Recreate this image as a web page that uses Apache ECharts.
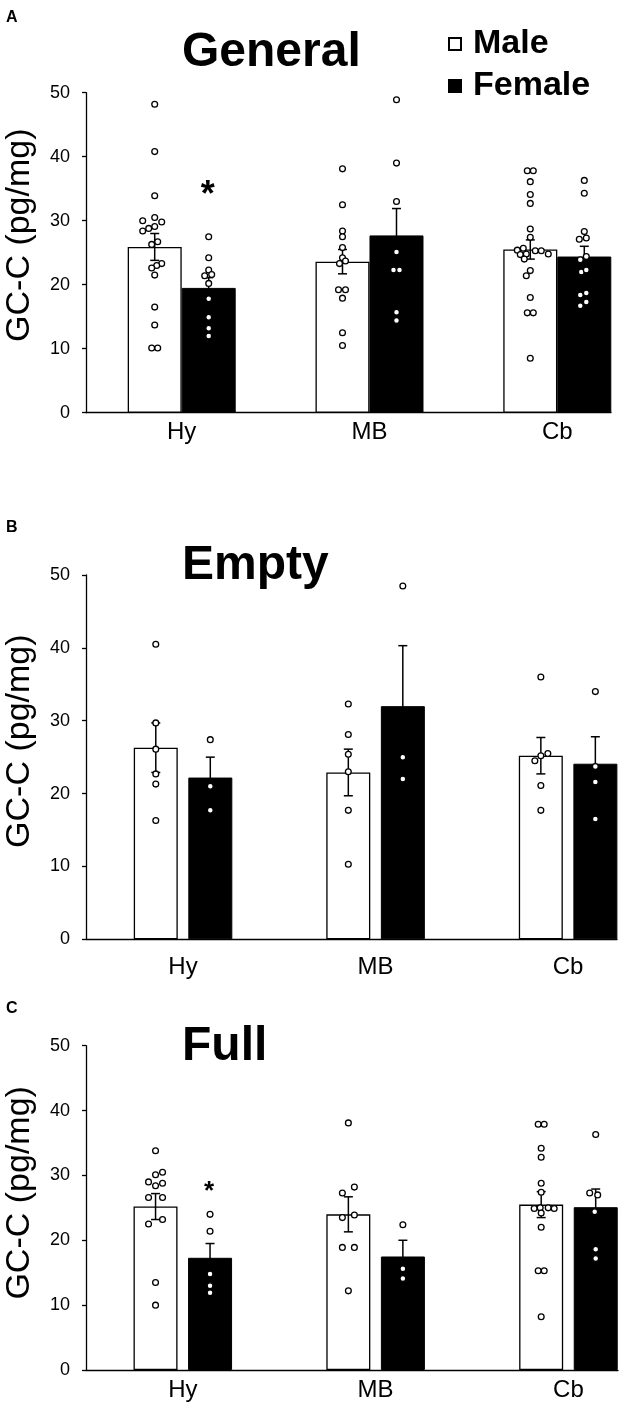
<!DOCTYPE html>
<html>
<head>
<meta charset="utf-8">
<script src="https://cdn.jsdelivr.net/npm/echarts/dist/echarts.min.js"></script>
<style>html,body{margin:0;padding:0;background:#fff;}#chart{width:624px;height:1410px;}</style>
</head>
<body>
<div id="chart"></div>
<script>
// ---------- data ----------
const categories = ['Hy', 'MB', 'Cb'];
const yTickValues = [0, 10, 20, 30, 40, 50];
const seriesNames = ['Male', 'Female'];
const panelTitles = ['General', 'Empty', 'Full'];
const panelLetters = ['A', 'B', 'C'];
const yAxisTitle = 'GC-C (pg/mg)';

// General (A)
const generalMaleMean = [25.9, 23.6, 25.5];
const generalMaleSem = [2.1, 1.9, 1.5];
const generalFemaleMean = [19.5, 27.7, 24.4];
const generalFemaleSem = [1.6, 4.2, 1.6];
const generalMalePoints = [
  [48.2, 40.8, 33.9, 30.0, 30.5, 29.8, 28.4, 28.8, 29.1, 26.3, 26.7, 23.3, 23.0, 22.6, 21.5, 16.5, 13.7, 10.1, 10.1],
  [38.1, 32.5, 28.4, 27.5, 25.8, 24.2, 23.3, 23.7, 19.2, 19.2, 17.9, 12.5, 10.5],
  [37.8, 37.8, 36.1, 34.1, 32.7, 28.7, 27.4, 25.4, 25.7, 24.7, 24.8, 24.0, 25.3, 25.3, 24.8, 22.2, 21.4, 18.0, 15.6, 15.6, 8.5]
];
const generalFemalePoints = [
  [27.5, 24.2, 22.3, 21.4, 21.6, 20.2, 17.8, 14.9, 13.2, 12.0],
  [48.9, 39.0, 33.0, 25.1, 22.3, 22.3, 15.7, 14.4],
  [36.3, 34.3, 28.3, 27.1, 27.3, 24.4, 23.9, 22.0, 22.3, 18.4, 18.7, 16.7, 17.3]
];
const generalSignificance = [35.1, null, null];

// Empty (B)
const emptyMaleMean = [26.3, 22.9, 25.2];
const emptyMaleSem = [3.4, 3.2, 2.5];
const emptyFemaleMean = [22.2, 32.0, 24.1];
const emptyFemaleSem = [2.8, 8.3, 3.7];
const emptyMalePoints = [
  [40.5, 29.7, 26.1, 22.7, 21.3, 16.3],
  [32.3, 28.1, 25.4, 23.0, 17.7, 10.3],
  [36.0, 25.5, 25.2, 24.5, 21.1, 17.7]
];
const emptyFemalePoints = [
  [27.4, 21.0, 17.7],
  [48.5, 25.0, 22.0],
  [34.0, 23.7, 21.6, 16.5]
];
const emptySignificance = [null, null, null];

// Full (C)
const fullMaleMean = [25.2, 24.0, 25.5];
const fullMaleSem = [2.0, 2.7, 2.0];
const fullFemaleMean = [17.3, 17.5, 25.1];
const fullFemaleSem = [2.2, 2.5, 2.8];
const fullMalePoints = [
  [33.8, 30.5, 30.1, 29.0, 28.4, 28.8, 26.6, 26.6, 22.5, 23.2, 13.5, 10.0],
  [38.1, 27.3, 28.2, 23.5, 23.9, 18.9, 18.9, 12.2],
  [37.9, 37.9, 34.2, 32.8, 28.8, 27.4, 24.9, 25.0, 25.0, 24.9, 24.2, 22.0, 15.3, 15.3, 8.2]
];
const fullFemalePoints = [
  [24.0, 21.4, 14.8, 13.0, 11.9],
  [22.4, 15.6, 14.1],
  [36.3, 27.3, 27.0, 24.4, 18.6, 17.2]
];
const fullSignificance = [28.3, null, null];

// ---------- horizontal jitter of the dots (px, layout only) ----------
const generalMaleJitter = [
  [0, 0, 0, -12, 0, 7, -12, -6, 0, -3, 3, 7, 2, -3, 0, 0, 0, -3, 3],
  [0, 0, 0, 0, 0, 0, -3, 3, -4, 3, 0, 0, 0],
  [-3, 3, 0, 0, 0, 0, 0, -13, -7, -10, -4, -6, 5, 11, 18, 0, -4, 0, -3, 3, 0]
];
const generalFemaleJitter = [
  [0, 0, 0, -4, 3, 0, 0, 0, 0, 0],
  [0, 0, 0, 0, -3, 3, 0, 0],
  [0, 0, 0, -5, 2, 2, -4, -3, 2, -4, 2, -4, 2]
];
const emptyMaleJitter = [[0, 0, 0, 0, 0, 0], [0, 0, 0, 0, 0, 0], [0, 7, 0, -6, 0, 0]];
const emptyFemaleJitter = [[0, 0, 0], [0, 0, 0], [0, 0, 0, 0]];
const fullMaleJitter = [
  [0, 7, 0, -7, 0, 7, -7, 7, -7, 7, 0, 0],
  [0, -6, 6, -6, 6, -6, 6, 0],
  [-3, 3, 0, 0, 0, 0, -7, -1, 7, 13, 0, 0, -3, 3, 0]
];
const fullFemaleJitter = [[0, 0, 0, 0, 0], [0, 0, 0], [0, -6, 2, -1, 0, 0]];

// ---------- layout ----------
const FONT = '"Liberation Sans", Arial, Helvetica, sans-serif';
const panels = [
  { title: panelTitles[0], letter: panelLetters[0],
    mMean: generalMaleMean, mSem: generalMaleSem, fMean: generalFemaleMean, fSem: generalFemaleSem,
    mPts: generalMalePoints, fPts: generalFemalePoints, mJit: generalMaleJitter, fJit: generalFemaleJitter,
    sig: generalSignificance, sigSize: 36,
    top: 92.7, height: 320, width: 525, xMin: -0.5096, xMax: 2.286,
    barWidth: 54, barGap: '0%', offset: 27, labelMargin: 8, namePad: 35, titleTop: 29, letterTop: 9.5 },
  { title: panelTitles[1], letter: panelLetters[1],
    mMean: emptyMaleMean, mSem: emptyMaleSem, fMean: emptyFemaleMean, fSem: emptyFemaleSem,
    mPts: emptyMalePoints, fPts: emptyFemalePoints, mJit: emptyMaleJitter, fJit: emptyFemaleJitter,
    sig: emptySignificance, sigSize: 30,
    top: 575, height: 364.3, width: 531, xMin: -0.504, xMax: 2.254,
    barWidth: 44, barGap: '24%', offset: 27.25, labelMargin: 16, namePad: 32, titleTop: 542, letterTop: 519.5 },
  { title: panelTitles[2], letter: panelLetters[2],
    mMean: fullMaleMean, mSem: fullMaleSem, fMean: fullFemaleMean, fSem: fullFemaleSem,
    mPts: fullMalePoints, fPts: fullFemalePoints, mJit: fullMaleJitter, fJit: fullFemaleJitter,
    sig: fullSignificance, sigSize: 26,
    top: 1045.7, height: 324.3, width: 532, xMin: -0.502, xMax: 2.257,
    barWidth: 44, barGap: '24%', offset: 27.25, labelMargin: 8, namePad: 30, titleTop: 1022.5, letterTop: 1001 }
];

const axisLineStyle = { color: '#000', width: 1.3 };
const grids = [], xAxes = [], yAxes = [], series = [], titles = [];

panels.forEach((p, i) => {
  grids.push({ left: 86, top: p.top, width: p.width, height: p.height,
    containLabel: false, outerBoundsMode: 'none' });
  xAxes.push({
    gridIndex: i, type: 'value', min: p.xMin, max: p.xMax,
    axisLine: { show: true, onZero: false, lineStyle: axisLineStyle },
    axisTick: { show: false }, splitLine: { show: false },
    axisLabel: { customValues: [0, 1, 2], formatter: v => categories[Math.round(v)] || '',
      fontSize: 24, color: '#000', fontFamily: FONT, margin: p.labelMargin }
  });
  yAxes.push({
    gridIndex: i, type: 'value', min: 0, max: 50, interval: 10,
    axisLine: { show: true, onZero: false, lineStyle: axisLineStyle },
    axisTick: { show: true, length: 4, lineStyle: axisLineStyle, customValues: yTickValues },
    axisLabel: { fontSize: 18, color: '#000', fontFamily: FONT, margin: 16, customValues: yTickValues },
    splitLine: { show: false },
    name: yAxisTitle, nameLocation: 'middle', nameGap: 49,
    nameTextStyle: { fontSize: 34, color: '#000', fontFamily: FONT, padding: [0, 0, 0, p.namePad] }
  });

  series.push({
    type: 'bar', name: seriesNames[0], xAxisIndex: i, yAxisIndex: i,
    data: p.mMean.map((v, k) => [k, v]), barWidth: p.barWidth, barGap: p.barGap,
    itemStyle: { color: '#fff', borderColor: '#000', borderWidth: 1.3 }, z: 2, silent: true
  });
  series.push({
    type: 'bar', name: seriesNames[1], xAxisIndex: i, yAxisIndex: i,
    data: p.fMean.map((v, k) => [k, v]), barWidth: p.barWidth, barGap: p.barGap,
    itemStyle: { color: '#000', borderColor: '#000', borderWidth: 1 }, z: 2, silent: true
  });

  // error bars
  const errData = [];
  p.mMean.forEach((v, k) => errData.push([k, v, p.mSem[k], -1]));
  p.fMean.forEach((v, k) => errData.push([k, v, p.fSem[k], 1]));
  series.push({
    type: 'custom', xAxisIndex: i, yAxisIndex: i, z: 3, silent: true,
    encode: { x: 0, y: 1 },
    data: errData,
    renderItem: (params, api) => {
      const k = api.value(0), m = api.value(1), s = api.value(2), side = api.value(3);
      const t = api.coord([k, m + s]), b = api.coord([k, m - s]);
      const x = t[0] + side * p.offset, cw = 4.5;
      const st = { stroke: '#000', lineWidth: 1.5 };
      return { type: 'group', children: [
        { type: 'line', shape: { x1: x, y1: t[1], x2: x, y2: b[1] }, style: st },
        { type: 'line', shape: { x1: x - cw, y1: t[1], x2: x + cw, y2: t[1] }, style: st },
        { type: 'line', shape: { x1: x - cw, y1: b[1], x2: x + cw, y2: b[1] }, style: st }
      ] };
    }
  });

  // individual dots
  const ptData = [];
  p.mPts.forEach((arr, k) => arr.forEach((v, j) => ptData.push([k, v, p.mJit[k][j], -1])));
  p.fPts.forEach((arr, k) => arr.forEach((v, j) => ptData.push([k, v, p.fJit[k][j], 1])));
  series.push({
    type: 'custom', xAxisIndex: i, yAxisIndex: i, z: 4, silent: true,
    encode: { x: 0, y: 1 },
    data: ptData,
    renderItem: (params, api) => {
      const c = api.coord([api.value(0), api.value(1)]);
      return { type: 'circle',
        shape: { cx: c[0] + api.value(3) * p.offset + api.value(2), cy: c[1], r: 2.9 },
        style: { fill: '#fff', stroke: '#000', lineWidth: 1.3 } };
    }
  });

  // significance asterisks (above female bars)
  const sigData = [];
  p.sig.forEach((v, k) => { if (v !== null) sigData.push([k, v]); });
  if (sigData.length) {
    series.push({
      type: 'custom', xAxisIndex: i, yAxisIndex: i, z: 5, silent: true,
      encode: { x: 0, y: 1 },
      data: sigData,
      renderItem: (params, api) => {
        const c = api.coord([api.value(0), api.value(1)]);
        return { type: 'text', x: c[0] + p.offset - 1, y: c[1] + 0.22 * p.sigSize,
          style: { text: '*', fontSize: p.sigSize, fontWeight: 'bold', fontFamily: FONT,
            fill: '#000', align: 'center', verticalAlign: 'middle' } };
      }
    });
  }

  titles.push({ text: p.title, left: 182, top: p.titleTop, padding: 0,
    textStyle: { fontSize: 48, fontWeight: 'bold', color: '#000', fontFamily: FONT } });
  titles.push({ text: p.letter, left: 6, top: p.letterTop, padding: 0,
    textStyle: { fontSize: 16, fontWeight: 'bold', color: '#000', fontFamily: FONT } });
});

const option = {
  animation: false,
  backgroundColor: '#fff',
  textStyle: { fontFamily: FONT },
  title: titles,
  legend: {
    data: seriesNames, orient: 'vertical', left: 448, top: 27, padding: 0,
    itemWidth: 12, itemHeight: 12, itemGap: 8, icon: 'rect', selectedMode: false,
    textStyle: { fontSize: 34, fontWeight: 'bold', color: '#000', fontFamily: FONT, padding: [0, 0, 0, 7] }
  },
  grid: grids,
  xAxis: xAxes,
  yAxis: yAxes,
  series: series
};

const chart = echarts.init(document.getElementById('chart'), null, { renderer: 'canvas' });
chart.setOption(option);
</script>
</body>
</html>
